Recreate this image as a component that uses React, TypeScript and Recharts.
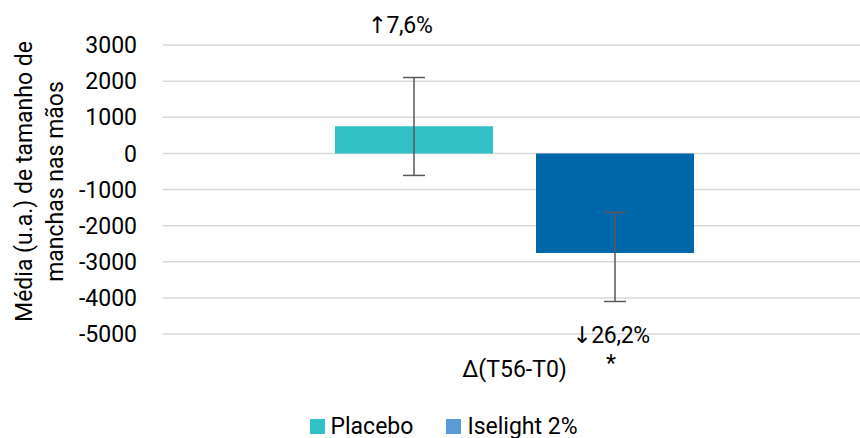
import React from 'react';
import { BarChart, Bar, XAxis, YAxis, CartesianGrid, ErrorBar, LabelList, Legend } from 'recharts';

const categories = ['Δ(T56-T0)'];
const placeboValues = [750];
const iselightValues = [-2760];
// [below, above] error extents
const placeboErrors = [[1360, 1350]];
const iselightErrors = [[1340, 1126]];
const changeLabels = ['↑7,6%', '↓26,2%'];
const significance = ['', '*'];
const yTicks = [-5000, -4000, -3000, -2000, -1000, 0, 1000, 2000, 3000];

const PLACEBO = '#31C0C6';
const ISELIGHT = '#0068AA';
const ISELIGHT_LEGEND = '#5B9BD5';
const FONT = 'Roboto, "Noto Sans", sans-serif';
const FS = 23;

const data = categories.map((c, i) => ({
  cat: c,
  placebo: placeboValues[i],
  iselight: iselightValues[i],
  placeboErr: placeboErrors[i],
  iselightErr: iselightErrors[i],
}));

const barBox = (p: any) => {
  const x = Number(p.x), y = Number(p.y), w = Number(p.width), h = Number(p.height);
  return { cx: x + w / 2, top: Math.min(y, y + h), bottom: Math.max(y, y + h) };
};

const Change = ({ x, y, i }: { x: number; y: number; i: number }) => (
  <text x={x} y={y} textAnchor="middle" dominantBaseline="central" fontSize={FS}
    fontFamily={'Roboto, "DejaVu Sans", sans-serif'} fill="#000" letterSpacing={-0.3}>
    {changeLabels[i]}
  </text>
);

const PlaceboLabel = (p: any) => {
  const b = barBox(p);
  return <Change x={b.cx - 14} y={b.top - 101} i={0} />;
};

const IselightLabel = (p: any) => {
  const b = barBox(p);
  return (
    <g>
      <Change x={b.cx - 4} y={b.bottom + 82} i={1} />
      <text x={b.cx - 4} y={b.bottom + 110} textAnchor="middle" dominantBaseline="central"
        fontSize={FS} fontFamily={FONT} fill="#000">{significance[1]}</text>
    </g>
  );
};

const YLabel = (p: any) => {
  const vb = p.viewBox || {};
  const cy = vb.y + vb.height / 2 - 8;
  return (
    <g fontSize={FS} fontFamily={FONT} fill="#000" textAnchor="middle">
      <text x={24} y={cy} transform={`rotate(-90, 24, ${cy})`} dominantBaseline="central">Média (u.a.) de tamanho de</text>
      <text x={55} y={cy} transform={`rotate(-90, 55, ${cy})`} dominantBaseline="central">manchas nas mãos</text>
    </g>
  );
};

const LegendContent = () => (
  <div style={{ display: 'flex', justifyContent: 'center', paddingTop: 30, paddingLeft: 54, fontFamily: FONT, fontSize: FS, color: '#000' }}>
    {[['Placebo', PLACEBO], ['Iselight 2%', ISELIGHT_LEGEND]].map(([name, color]) => (
      <div key={name} style={{ display: 'flex', alignItems: 'center', marginRight: 33, height: 24 }}>
        <span style={{ width: 15, height: 15, background: color, display: 'inline-block', marginRight: 6 }} />
        <span>{name}</span>
      </div>
    ))}
  </div>
);

export default function App() {
  return (
    <div style={{ position: 'absolute', left: 0, top: 0, width: 860, height: 438, background: '#fff' }}>
      <BarChart width={860} height={438} data={data} barSize={158} barGap={43}
        margin={{ top: 45, right: -6, left: 0, bottom: 0 }}>
        <CartesianGrid vertical={false} stroke="#D9D9D9" strokeWidth={1.5} />
        <XAxis dataKey="cat" axisLine={false} tickLine={false} tickSize={0} tickMargin={27} height={50}
          tick={{ fontSize: FS, fontFamily: FONT, fill: '#000' }} />
        <YAxis type="number" domain={[-5000, 3000]} ticks={yTicks} interval={0} width={163}
          axisLine={false} tickLine={false} tickSize={0} tickMargin={26}
          tick={{ fontSize: FS, fontFamily: FONT, fill: '#000' }}
          label={<YLabel />} />
        <Legend verticalAlign="bottom" height={54} content={<LegendContent />} />
        <Bar dataKey="placebo" name="Placebo" fill={PLACEBO} isAnimationActive={false}>
          <ErrorBar dataKey="placeboErr" direction="y" width={11} stroke="#595959" strokeWidth={1.5} />
          <LabelList dataKey="placebo" content={<PlaceboLabel />} />
        </Bar>
        <Bar dataKey="iselight" name="Iselight 2%" fill={ISELIGHT} isAnimationActive={false}>
          <ErrorBar dataKey="iselightErr" direction="y" width={11} stroke="#595959" strokeWidth={1.5} />
          <LabelList dataKey="iselight" content={<IselightLabel />} />
        </Bar>
      </BarChart>
    </div>
  );
}
